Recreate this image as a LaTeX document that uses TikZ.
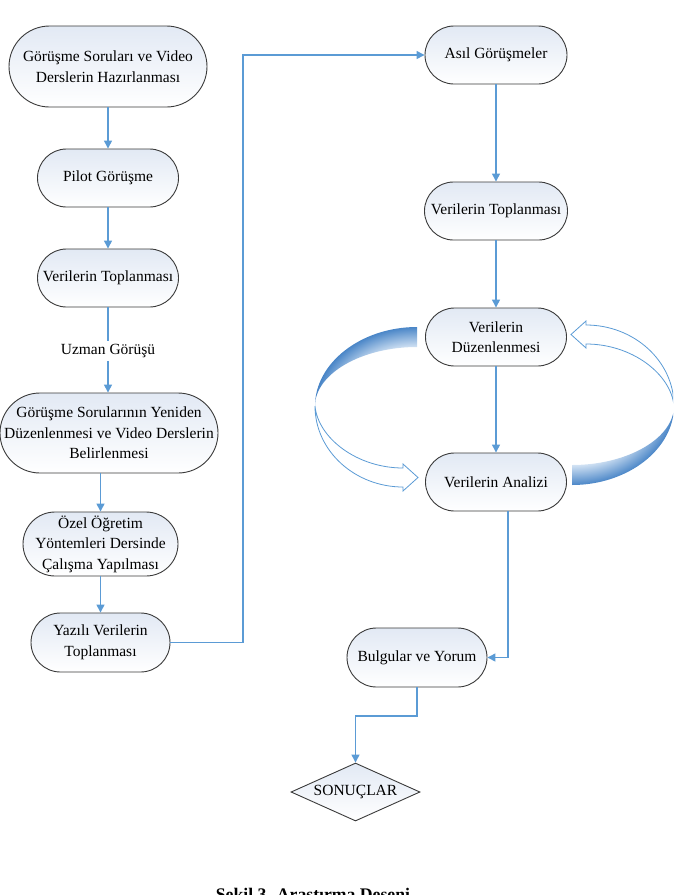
\documentclass[tikz,border=0pt]{standalone}
\usepackage{fontspec}
\setmainfont{Liberation Serif}
\usetikzlibrary{arrows.meta,shapes.geometric,calc}
\definecolor{lineblue}{HTML}{5B9BD5}
\definecolor{edgegray}{HTML}{3A3A3A}
\definecolor{nodetop}{HTML}{E2E9F4}
\definecolor{bandlight}{HTML}{D6E5F5}
\definecolor{banddark}{HTML}{3D7DC3}
\pgfdeclareradialshading{bandshade}{\pgfpointorigin}{color(0bp)=(white); color(18bp)=(bandlight); color(25bp)=(banddark); color(50bp)=(banddark)}
\newcommand{\diagfont}{\fontsize{15.5}{20.5}\selectfont}
\newcommand{\mycurvearrow}{%
  \begin{scope}
    \clip (417,327) .. controls (361,327) and (315,363) .. (315,406)
          .. controls (315,374) and (361,347) .. (417,347) -- cycle;
    \shade[shading=bandshade] (417,406) ellipse [x radius=104, y radius=81];
  \end{scope}
  \draw[lineblue, line width=0.8pt, fill=white]
    (315,406) .. controls (315,451) and (355,487) .. (403,487)
    -- (403,491) -- (418,477.5) -- (403,464) -- (403,468)
    .. controls (357,468) and (318,438) .. (315,406) -- cycle;
}
\begin{document}
\begin{tikzpicture}[x=1pt,y=-1pt,
  box/.style={draw=edgegray, line width=0.9pt, rectangle, rounded corners=#1,
    top color=nodetop, bottom color=white, inner sep=0pt, align=center, font=\diagfont},
  conn/.style={draw=lineblue, line width=1.3pt, -{Triangle[length=8pt,width=8pt]}},
  plain/.style={draw=lineblue, line width=1.3pt}]
\useasboundingbox (0,0) rectangle (673,895);
\clip (0,0) rectangle (673,895);

% curved arrows
\mycurvearrow
\begin{scope}[rotate around={180:(494.5,406)}]
  \mycurvearrow
\end{scope}

% left column
\node[box=40.5pt, minimum width=198pt, minimum height=81pt] (n1) at (108,66.5) {Görüşme Soruları ve Video\\Derslerin Hazırlanması};
\node[box=29pt, minimum width=141pt, minimum height=58pt] (n2) at (108,178) {Pilot Görüşme};
\node[box=29pt, minimum width=141pt, minimum height=58pt] (n3) at (108,278) {Verilerin Toplanması};
\node[font=\diagfont, inner sep=3pt] (uz) at (108,351) {Uzman Görüşü};
\node[box=40pt, minimum width=218pt, minimum height=80pt] (n4) at (109,433) {Görüşme Sorularının Yeniden\\Düzenlenmesi ve Video Derslerin\\Belirlenmesi};
\node[box=32pt, minimum width=155pt, minimum height=64pt] (n5) at (100.5,544) {Özel Öğretim\\Yöntemleri Dersinde\\Çalışma Yapılması};
\node[box=29.5pt, minimum width=139pt, minimum height=59pt] (n6) at (100.5,642.5) {Yazılı Verilerin\\Toplanması};

% right column
\node[box=29pt, minimum width=142pt, minimum height=58pt] (n7) at (496,55) {Asıl Görüşmeler};
\node[box=29pt, minimum width=143pt, minimum height=58pt] (n8) at (496,211) {Verilerin Toplanması};
\node[box=29pt, minimum width=141pt, minimum height=58pt] (n9) at (496,337) {Verilerin\\Düzenlenmesi};
\node[box=29pt, minimum width=141pt, minimum height=58pt] (n10) at (496,482) {Verilerin Analizi};
\node[box=29.5pt, minimum width=140pt, minimum height=59pt] (n11) at (417,657.5) {Bulgular ve Yorum};
\node[diamond, aspect=2.2, draw=edgegray, line width=0.9pt, top color=nodetop, bottom color=white,
  minimum width=129pt, minimum height=58pt, inner sep=0pt, font=\diagfont] (d) at (355.5,792) {SONUÇLAR};

\node[font=\fontsize{17.7}{20}\selectfont\bfseries, anchor=base] (cap) at (313,900) {Şekil 3. Araştırma Deseni};

% connectors
\draw[conn] (n1) -- (n2);
\draw[conn] (n2) -- (n3);
\draw[plain] (n3.south) -- (uz.north);
\draw[conn] (uz.south) -- (uz.south |- n4.north);
\draw[conn] (n4.south -| n5.north) -- (n5.north);
\draw[conn] (n5) -- (n6);
\coordinate (c1) at (243,642.5);
\draw[conn] (n6.east) -- (c1) |- (n7.west);
\draw[conn] (n7) -- (n8);
\draw[conn] (n8) -- (n9);
\draw[conn] (n9) -- (n10);
\coordinate (c3) at (508,511);
\draw[conn] (c3) |- (n11.east);
\coordinate (c2) at (417,716);
\draw[conn] (n11.south) -- (c2) -| (d.north);
\end{tikzpicture}
\end{document}
